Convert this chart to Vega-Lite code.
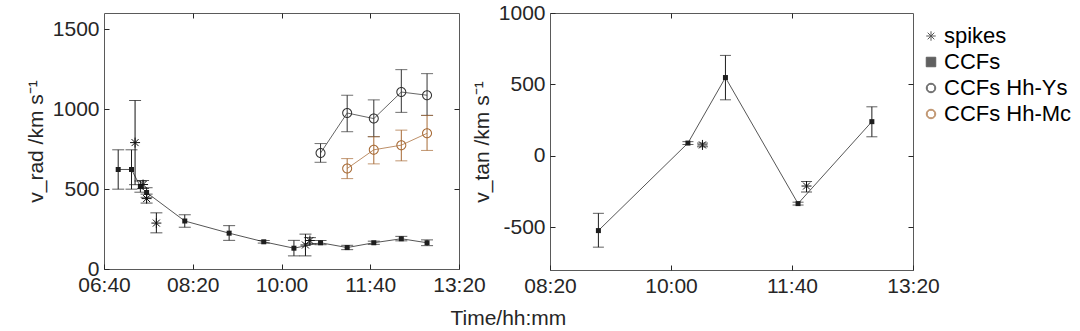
{
  "$schema": "https://vega.github.io/schema/vega-lite/v6.json",
  "padding": {"left": 24, "top": 1, "right": 5, "bottom": 5},
  "background": "white",
  "title": {"text": "Time/hh:mm", "orient": "bottom", "anchor": "middle", "frame": "bounds", "dx": -46, "fontSize": 21, "fontWeight": "normal", "color": "#262626", "font": "Liberation Sans", "offset": 11},
  "datasets": {
    "rad": [
      {"series": "CCFs", "t": "2000-01-01T06:56", "v": 622, "lo": 499, "hi": 745},
      {"series": "CCFs", "t": "2000-01-01T07:11", "v": 622, "lo": 499, "hi": 745},
      {"series": "CCFs", "t": "2000-01-01T07:21", "v": 515, "lo": 480, "hi": 550},
      {"series": "CCFs", "t": "2000-01-01T07:28", "v": 478, "lo": 448, "hi": 508},
      {"series": "CCFs", "t": "2000-01-01T08:11", "v": 300, "lo": 261, "hi": 339},
      {"series": "CCFs", "t": "2000-01-01T09:01", "v": 224, "lo": 179, "hi": 271},
      {"series": "CCFs", "t": "2000-01-01T09:40", "v": 170, "lo": 162, "hi": 178},
      {"series": "CCFs", "t": "2000-01-01T10:14", "v": 130, "lo": 82, "hi": 179},
      {"series": "CCFs", "t": "2000-01-01T10:44", "v": 164, "lo": 152, "hi": 178},
      {"series": "CCFs", "t": "2000-01-01T11:14", "v": 134, "lo": 121, "hi": 148},
      {"series": "CCFs", "t": "2000-01-01T11:44", "v": 164, "lo": 154, "hi": 174},
      {"series": "CCFs", "t": "2000-01-01T12:15", "v": 189, "lo": 176, "hi": 204},
      {"series": "CCFs", "t": "2000-01-01T12:44", "v": 164, "lo": 146, "hi": 182},
      {"series": "CCFs Hh-Ys", "t": "2000-01-01T10:44", "v": 725, "lo": 667, "hi": 784},
      {"series": "CCFs Hh-Ys", "t": "2000-01-01T11:14", "v": 975, "lo": 858, "hi": 1086},
      {"series": "CCFs Hh-Ys", "t": "2000-01-01T11:44", "v": 940, "lo": 827, "hi": 1057},
      {"series": "CCFs Hh-Ys", "t": "2000-01-01T12:15", "v": 1106, "lo": 979, "hi": 1246},
      {"series": "CCFs Hh-Ys", "t": "2000-01-01T12:44", "v": 1086, "lo": 960, "hi": 1221},
      {"series": "CCFs Hh-Mc", "t": "2000-01-01T11:14", "v": 628, "lo": 565, "hi": 690},
      {"series": "CCFs Hh-Mc", "t": "2000-01-01T11:44", "v": 745, "lo": 657, "hi": 827},
      {"series": "CCFs Hh-Mc", "t": "2000-01-01T12:15", "v": 774, "lo": 676, "hi": 868},
      {"series": "CCFs Hh-Mc", "t": "2000-01-01T12:44", "v": 848, "lo": 741, "hi": 960},
      {"series": "spikes", "t": "2000-01-01T07:15", "v": 790, "lo": 527, "hi": 1053},
      {"series": "spikes", "t": "2000-01-01T07:24", "v": 528, "lo": 503, "hi": 553},
      {"series": "spikes", "t": "2000-01-01T07:28", "v": 440, "lo": 412, "hi": 468},
      {"series": "spikes", "t": "2000-01-01T07:39", "v": 287, "lo": 226, "hi": 351},
      {"series": "spikes", "t": "2000-01-01T10:27", "v": 150, "lo": 82, "hi": 218},
      {"series": "spikes", "t": "2000-01-01T10:32", "v": 178, "lo": 158, "hi": 196}
    ],
    "tan": [
      {"series": "CCFs", "t": "2000-01-01T09:00", "v": -524, "lo": -640, "hi": -403},
      {"series": "CCFs", "t": "2000-01-01T10:14", "v": 89, "lo": 79, "hi": 99},
      {"series": "CCFs", "t": "2000-01-01T10:45", "v": 548, "lo": 392, "hi": 703},
      {"series": "CCFs", "t": "2000-01-01T11:45", "v": -335, "lo": -345, "hi": -325},
      {"series": "CCFs", "t": "2000-01-01T12:46", "v": 239, "lo": 133, "hi": 343},
      {"series": "spikes", "t": "2000-01-01T10:26", "v": 76, "lo": 63, "hi": 89},
      {"series": "spikes", "t": "2000-01-01T11:52", "v": -212, "lo": -254, "hi": -180}
    ]
  },
  "hconcat": [
    {
      "width": 355,
      "height": 256,
      "data": {"name": "rad"},
      "resolve": {"axis": {"x": "independent", "y": "independent"}},
      "layer": [
        {
          "transform": [{"filter": "datum.series !== 'spikes'"}],
          "mark": {"type": "line", "strokeWidth": 1, "strokeOpacity": 0.75},
          "encoding": {
            "x": {"field": "t", "type": "temporal", "scale": {"domain": [{"year": 2000, "month": 1, "date": 1, "hours": 6, "minutes": 40}, {"year": 2000, "month": 1, "date": 1, "hours": 13, "minutes": 20}]}, "axis": {"orient": "top", "labels": false, "title": null, "values": [{"year": 2000, "month": 1, "date": 1, "hours": 8, "minutes": 20}, {"year": 2000, "month": 1, "date": 1, "hours": 10, "minutes": 0}, {"year": 2000, "month": 1, "date": 1, "hours": 11, "minutes": 40}]}},
            "y": {"field": "v", "type": "quantitative", "scale": {"domain": [0, 1500]}, "axis": {"orient": "right", "labels": false, "title": null, "values": [500, 1000]}},
            "color": {"field": "series", "type": "nominal", "title": null, "scale": {"domain": ["spikes", "CCFs", "CCFs Hh-Ys", "CCFs Hh-Mc"], "range": ["#111111", "#1e1e1e", "#333333", "#A76A35"]}}
          }
        },
        {
          "mark": {"type": "errorbar", "ticks": {"size": 12}, "thickness": 1},
          "encoding": {
            "x": {"field": "t", "type": "temporal", "axis": null},
            "y": {"field": "lo", "type": "quantitative", "axis": null},
            "y2": {"field": "hi"},
            "color": {"field": "series", "type": "nominal", "title": null}
          }
        },
        {
          "transform": [{"filter": "datum.series === 'CCFs'"}],
          "mark": {"type": "point", "size": 25, "filled": true, "opacity": 1},
          "encoding": {
            "x": {"field": "t", "type": "temporal", "axis": {"values": [{"year": 2000, "month": 1, "date": 1, "hours": 6, "minutes": 40}, {"year": 2000, "month": 1, "date": 1, "hours": 8, "minutes": 20}, {"year": 2000, "month": 1, "date": 1, "hours": 10, "minutes": 0}, {"year": 2000, "month": 1, "date": 1, "hours": 11, "minutes": 40}, {"year": 2000, "month": 1, "date": 1, "hours": 13, "minutes": 20}], "format": "%H:%M", "title": null, "labelFlush": false}},
            "y": {"field": "v", "type": "quantitative", "axis": {"values": [0, 500, 1000, 1500], "labelExpr": "'' + datum.value", "title": "v_rad /km s⁻¹"}},
            "color": {"field": "series", "type": "nominal", "title": null},
            "shape": {"field": "series", "type": "nominal", "title": null, "scale": {"domain": ["spikes", "CCFs", "CCFs Hh-Ys", "CCFs Hh-Mc"], "range": ["M-1,0L1,0M0,-1L0,1M-0.7,-0.7L0.7,0.7M-0.7,0.7L0.7,-0.7", "square", "M1,0A1,1 0 1,1 -1,0A1,1 0 1,1 1,0ZM0.8,0A0.8,0.8 0 1,0 -0.8,0A0.8,0.8 0 1,0 0.8,0Z", "M1,0A1,1 0 1,1 -1,0A1,1 0 1,1 1,0ZM0.8,0A0.8,0.8 0 1,0 -0.8,0A0.8,0.8 0 1,0 0.8,0Z"]}}
          }
        },
        {
          "transform": [{"filter": "datum.series === 'spikes'"}],
          "mark": {"type": "point", "size": 100, "strokeWidth": 1, "filled": false, "opacity": 1},
          "encoding": {
            "x": {"field": "t", "type": "temporal", "axis": null},
            "y": {"field": "v", "type": "quantitative", "axis": null},
            "color": {"field": "series", "type": "nominal", "title": null},
            "shape": {"field": "series", "type": "nominal", "title": null}
          }
        },
        {
          "transform": [{"filter": "datum.series === 'CCFs Hh-Ys' || datum.series === 'CCFs Hh-Mc'"}],
          "mark": {"type": "point", "size": 100, "filled": true, "opacity": 1},
          "encoding": {
            "x": {"field": "t", "type": "temporal", "axis": null},
            "y": {"field": "v", "type": "quantitative", "axis": null},
            "color": {"field": "series", "type": "nominal", "title": null},
            "shape": {"field": "series", "type": "nominal", "title": null}
          }
        }
      ]
    },
    {
      "width": 363,
      "height": 257,
      "data": {"name": "tan"},
      "resolve": {"axis": {"x": "independent", "y": "independent"}},
      "layer": [
        {
          "transform": [{"filter": "datum.series !== 'spikes'"}],
          "mark": {"type": "line", "strokeWidth": 1, "strokeOpacity": 0.75},
          "encoding": {
            "x": {"field": "t", "type": "temporal", "scale": {"domain": [{"year": 2000, "month": 1, "date": 1, "hours": 8, "minutes": 20}, {"year": 2000, "month": 1, "date": 1, "hours": 13, "minutes": 20}]}, "axis": {"orient": "top", "labels": false, "title": null, "values": [{"year": 2000, "month": 1, "date": 1, "hours": 10, "minutes": 0}, {"year": 2000, "month": 1, "date": 1, "hours": 11, "minutes": 40}]}},
            "y": {"field": "v", "type": "quantitative", "scale": {"domain": [-635, 1000]}, "axis": {"orient": "right", "labels": false, "title": null, "values": [-500, 0, 500]}},
            "color": {"field": "series", "type": "nominal", "title": null}
          }
        },
        {
          "mark": {"type": "errorbar", "ticks": {"size": 11}, "thickness": 1, "clip": true},
          "encoding": {
            "x": {"field": "t", "type": "temporal", "axis": null},
            "y": {"field": "lo", "type": "quantitative", "axis": null},
            "y2": {"field": "hi"},
            "color": {"field": "series", "type": "nominal", "title": null}
          }
        },
        {
          "transform": [{"filter": "datum.series === 'CCFs'"}],
          "mark": {"type": "point", "size": 25, "filled": true, "opacity": 1},
          "encoding": {
            "x": {"field": "t", "type": "temporal", "axis": {"values": [{"year": 2000, "month": 1, "date": 1, "hours": 8, "minutes": 20}, {"year": 2000, "month": 1, "date": 1, "hours": 10, "minutes": 0}, {"year": 2000, "month": 1, "date": 1, "hours": 11, "minutes": 40}, {"year": 2000, "month": 1, "date": 1, "hours": 13, "minutes": 20}], "format": "%H:%M", "title": null, "labelFlush": false}},
            "y": {"field": "v", "type": "quantitative", "axis": {"values": [-500, 0, 500, 1000], "labelExpr": "'' + datum.value", "title": "v_tan /km s⁻¹"}},
            "color": {"field": "series", "type": "nominal", "title": null},
            "shape": {"field": "series", "type": "nominal", "title": null}
          }
        },
        {
          "transform": [{"filter": "datum.series === 'spikes'"}],
          "mark": {"type": "point", "size": 100, "strokeWidth": 1, "filled": false, "opacity": 1},
          "encoding": {
            "x": {"field": "t", "type": "temporal", "axis": null},
            "y": {"field": "v", "type": "quantitative", "axis": null},
            "color": {"field": "series", "type": "nominal", "title": null},
            "shape": {"field": "series", "type": "nominal", "title": null}
          }
        }
      ]
    }
  ],
  "spacing": -16,
  "config": {
    "font": "Liberation Sans",
    "view": {"stroke": "#5a5a5a", "strokeWidth": 1},
    "axis": {"grid": false, "domain": false, "tickSize": -5, "tickColor": "#262626", "labelFont": "Liberation Sans", "labelFontSize": 21, "labelColor": "#262626", "titleFont": "Liberation Sans", "titleFontSize": 21, "titleFontWeight": "normal", "titleColor": "#262626", "labelPadding": 10, "titlePadding": 6},
    "legend": {
      "orient": "right", "offset": -32, "padding": 12, "labelFont": "Liberation Sans", "labelFontSize": 22, "labelColor": "#000000", "rowPadding": 4, "symbolSize": 90, "labelOffset": 2, "symbolStrokeWidth": 1, "labelLimit": 300
    }
  }
}
